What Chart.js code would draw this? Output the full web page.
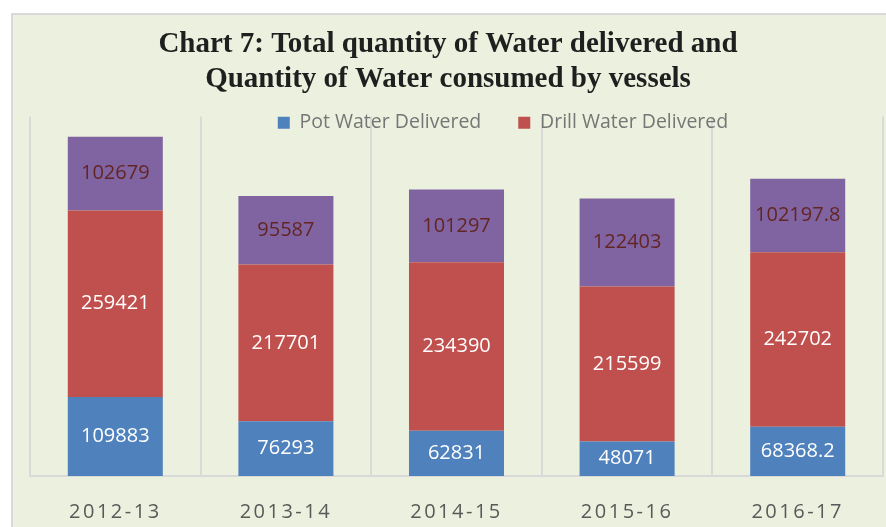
<!DOCTYPE html>
<html>
<head>
<meta charset="utf-8">
<script src="https://cdn.jsdelivr.net/npm/chart.js@4"></script>
<style>
  html, body { margin: 0; padding: 0; background: #ffffff; }
  #frame {
    position: absolute; left: 11px; top: 13px;
    width: 873px; height: 512px;
    border-top: 2px solid #d9d9d9; border-left: 2px solid #d9d9d9;
    background: #ebf1de;
  }
</style>
</head>
<body>
<div id="frame"><canvas id="chart"></canvas></div>
<script>
// values
const years = ['2012-13', '2013-14', '2014-15', '2015-16', '2016-17'];
const potWater = [109883, 76293, 62831, 48071, 68368.2];
const drillWater = [259421, 217701, 234390, 215599, 242702];
const consumedWater = [102679, 95587, 101297, 122403, 102197.8];

const labelFont = '20px "Open Sans", "Noto Sans", sans-serif';

// value labels in the middle of each segment, then spaced-out x ticks
const segmentLabels = {
  id: 'segmentLabels',
  beforeDraw(chart) {
    // legend sits over the top of the plot, like the original
    const lg = chart.legend;
    const shift = 490 - (lg.left + lg.right) / 2;
    lg.left += shift;
    lg.right += shift;
    lg.top = 98 - lg.options.labels.padding;
    lg.bottom = lg.top + 100;
  },
  afterDatasetsDraw(chart) {
    const ctx = chart.ctx;
    ctx.save();
    ctx.font = labelFont;
    ctx.textAlign = 'center';
    ctx.textBaseline = 'middle';
    chart.data.datasets.forEach((ds, i) => {
      const meta = chart.getDatasetMeta(i);
      ctx.fillStyle = i === 2 ? '#632523' : '#ffffff';
      meta.data.forEach((bar, j) => {
        ctx.fillText(String(ds.data[j]), bar.x, (bar.y + bar.base) / 2);
      });
    });
    ctx.restore();
    ctx.letterSpacing = '2.5px';
  },
  afterDraw(chart) {
    chart.ctx.letterSpacing = '0px';
  }
};

new Chart(document.getElementById('chart'), {
  type: 'bar',
  data: {
    labels: years,
    datasets: [
      { label: 'Pot Water Delivered', data: potWater, backgroundColor: '#4f81bd' },
      { label: 'Drill Water Delivered', data: drillWater, backgroundColor: '#c0504d' },
      { label: 'Water Consumed by Vessels', data: consumedWater, backgroundColor: '#8064a2' }
    ]
  },
  options: {
    responsive: true,
    maintainAspectRatio: false,
    animation: false,
    categoryPercentage: 1,
    barPercentage: 0.557,
    layout: { padding: { left: 0, right: 3, top: 0, bottom: 3 } },
    plugins: {
      title: {
        display: true,
        text: ['Chart 7: Total quantity of Water delivered and', 'Quantity of Water consumed by vessels'],
        color: '#1f1f1f',
        font: { family: '"Liberation Serif", "Times New Roman", serif', size: 29, weight: 'bold', lineHeight: 35 / 29 },
        padding: { top: 12, bottom: -47 }
      },
      legend: {
        position: 'top',
        align: 'center',
        labels: {
          boxWidth: 12,
          boxHeight: 12,
          padding: 37,
          color: '#767676',
          font: { family: '"Open Sans", "Noto Sans", sans-serif', size: 19.5 },
          filter: item => item.datasetIndex < 2
        }
      },
      tooltip: { enabled: false }
    },
    scales: {
      x: {
        stacked: true,
        grid: { color: '#d9d9d9', lineWidth: 2, drawTicks: false },
        border: { color: '#d9d9d9', width: 2 },
        ticks: {
          z: 1,
          padding: 24,
          color: '#595959',
          font: { family: '"Open Sans", "Noto Sans", sans-serif', size: 20 }
        },
        afterFit(scale) { scale.height = 48; }
      },
      y: {
        stacked: true,
        min: 0,
        max: 500000,
        grid: { display: false },
        border: { display: false },
        ticks: { display: false },
        afterFit(scale) { scale.width = 17; }
      }
    }
  },
  plugins: [segmentLabels]
});
</script>
</body>
</html>
